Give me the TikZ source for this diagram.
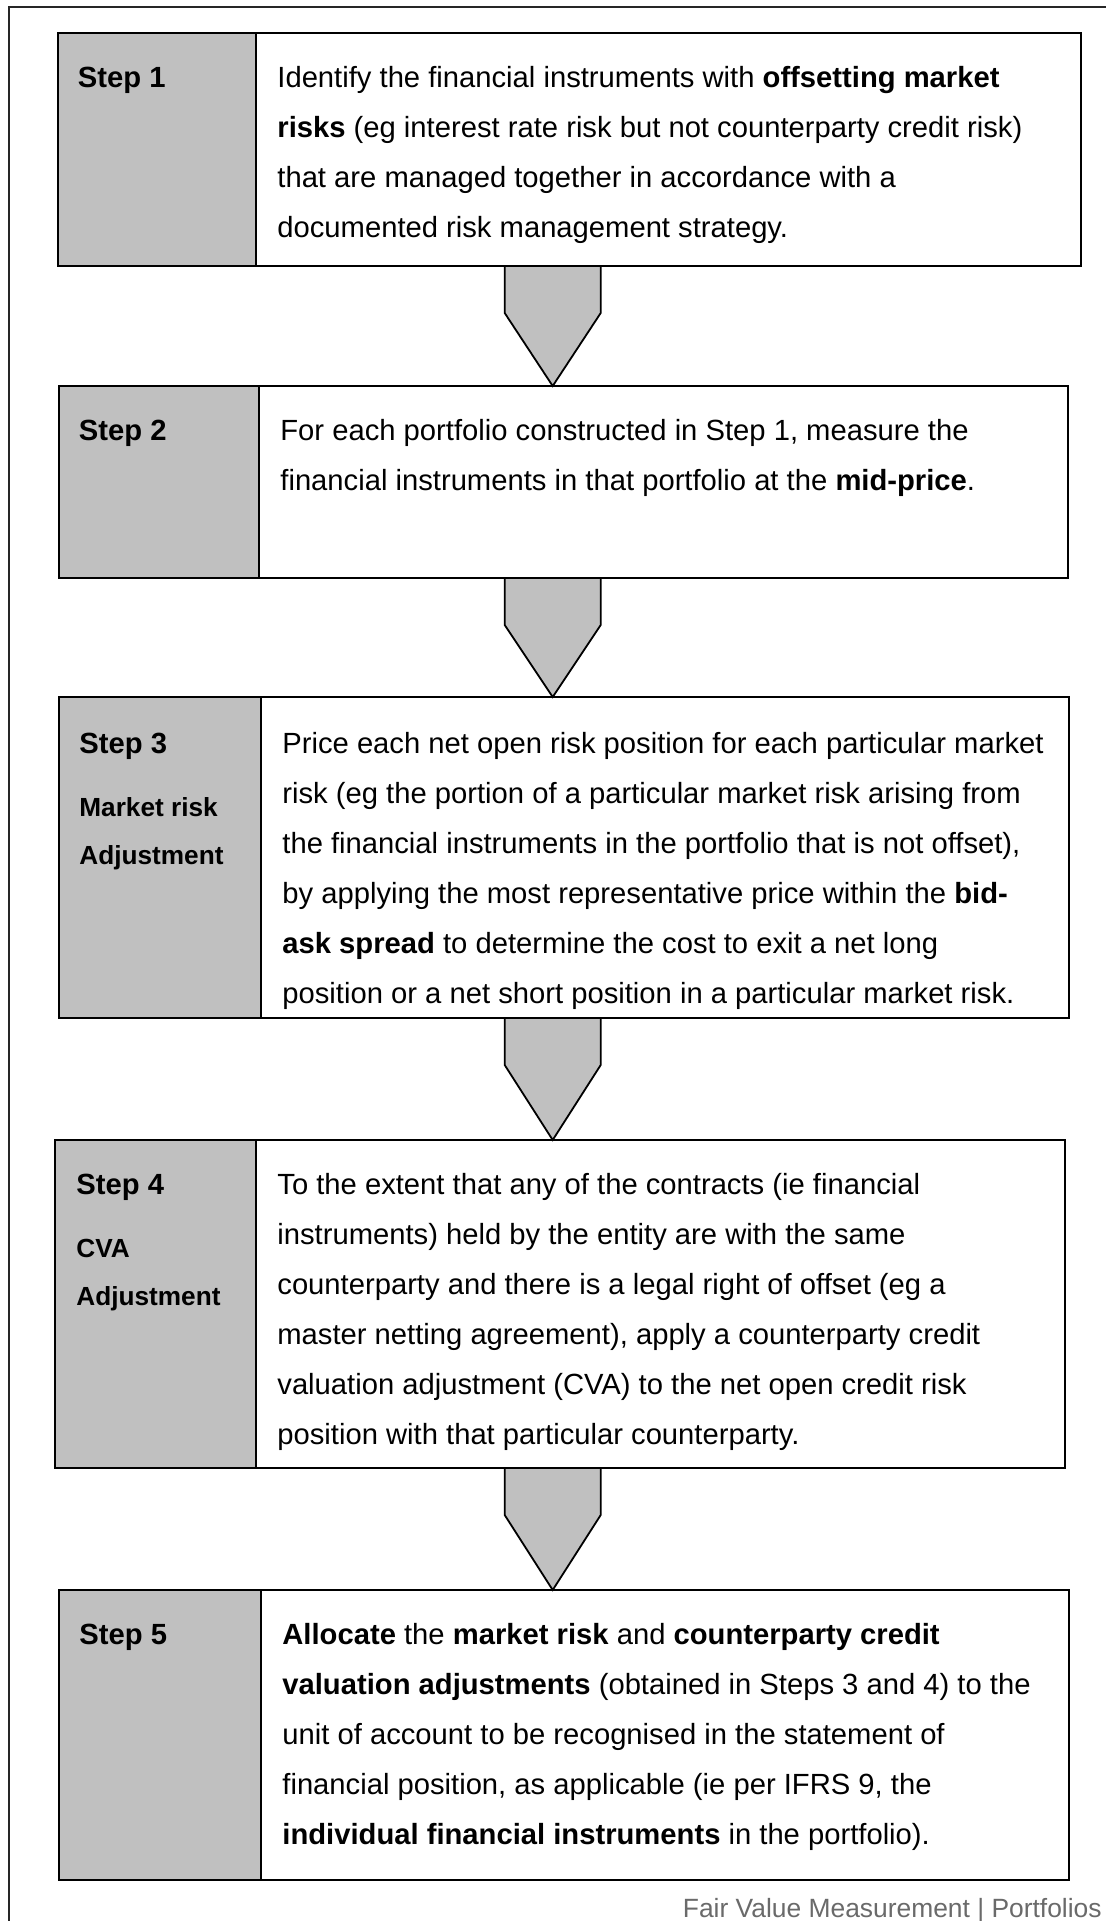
\documentclass[tikz,border=0pt]{standalone}
\usepackage{fontspec}
\setmainfont{Liberation Sans}
\usetikzlibrary{fit,calc}
\definecolor{panelgray}{HTML}{C0C0C0}
\definecolor{footgray}{HTML}{6A6A6A}
\tikzset{
  panel/.style={draw=black, line width=1pt, fill=white, inner sep=0pt, outer sep=0pt},
  labelcol/.style={draw=black, line width=1pt, fill=panelgray, inner sep=0pt, outer sep=0pt},
  blockarrow/.style={draw=black, line width=0.9pt, fill=panelgray, line join=miter},
  bodytext/.style={anchor=north west, inner sep=0pt, align=left, font=\fontsize{14.6pt}{25pt}\selectfont},
  steplabel/.style={anchor=base west, inner sep=0pt, font=\fontsize{14.6pt}{25pt}\selectfont\bfseries},
  sublabel/.style={anchor=north west, inner sep=0pt, align=left, font=\fontsize{13.1pt}{24pt}\selectfont\bfseries},
  outerframe/.style={draw=black!85, line width=1pt},
  footer/.style={anchor=base east, inner sep=0pt, text=footgray, font=\fontsize{13.2pt}{16pt}\selectfont},
}
\begin{document}
\begin{tikzpicture}[x=0.5pt,y=-0.5pt]
\path[use as bounding box] (0,0) rectangle (1105,1921);
\fill[white] (0,0) rectangle (1105,1921);
\draw[outerframe] (8.5,1930) -- (8.5,7) -- (1110,7);

% ---------- boxes ----------
\coordinate (b1nw) at (57.5,33);   \coordinate (b1se) at (1081,266);  \coordinate (g1se) at (256,266);
\coordinate (b2nw) at (58.5,386);  \coordinate (b2se) at (1068,578);  \coordinate (g2se) at (259,578);
\coordinate (b3nw) at (58.5,697);  \coordinate (b3se) at (1069,1018); \coordinate (g3se) at (261,1018);
\coordinate (b4nw) at (55,1140);   \coordinate (b4se) at (1065,1468); \coordinate (g4se) at (256,1468);
\coordinate (b5nw) at (58.5,1590); \coordinate (b5se) at (1069,1880); \coordinate (g5se) at (261,1880);

\node[panel, fit=(b1nw)(b1se)] (b1) {};
\node[labelcol, fit=(b1nw)(g1se)] (g1) {};
\node[panel, fit=(b2nw)(b2se)] (b2) {};
\node[labelcol, fit=(b2nw)(g2se)] (g2) {};
\node[panel, fit=(b3nw)(b3se)] (b3) {};
\node[labelcol, fit=(b3nw)(g3se)] (g3) {};
\node[panel, fit=(b4nw)(b4se)] (b4) {};
\node[labelcol, fit=(b4nw)(g4se)] (g4) {};
\node[panel, fit=(b5nw)(b5se)] (b5) {};
\node[labelcol, fit=(b5nw)(g5se)] (g5) {};

% ---------- block arrows ----------
\coordinate (ac) at (552.7,0);
\foreach \a/\b in {b1/b2,b2/b3,b3/b4,b4/b5}{
  \draw[blockarrow] ($(ac |- \a.south)+(-48,0)$) -- ($(ac |- \a.south)+(48,0)$)
    -- ($(ac |- \a.south)+(48,47)$) -- (ac |- \b.north)
    -- ($(ac |- \a.south)+(-48,47)$) -- cycle;
}

% ---------- Step 1 ----------
\node[steplabel] (s1) at (77.5,87.5) {Step 1};
\node[bodytext] (t1) at (277,52.5) {\strut Identify the financial instruments with \textbf{offsetting market}\\
\textbf{risks} (eg interest rate risk but not counterparty credit risk)\\
that are managed together in accordance with a\\
documented risk management strategy.};

% ---------- Step 2 ----------
\node[steplabel] (s2) at (78.5,440.5) {Step 2};
\node[bodytext] (t2) at (280,405.5) {\strut For each portfolio constructed in Step 1, measure the\\
financial instruments in that portfolio at the \textbf{mid-price}.};

% ---------- Step 3 ----------
\node[steplabel] (s3) at (79,753) {Step 3};
\node[sublabel] (m3) at (79,782.4) {\strut Market risk\\Adjustment};
\node[bodytext] (t3) at (282,718) {\strut Price each net open risk position for each particular market\\
risk (eg the portion of a particular market risk arising from\\
the financial instruments in the portfolio that is not offset),\\
by applying the most representative price within the \textbf{bid-}\\
\textbf{ask spread} to determine the cost to exit a net long\\
position or a net short position in a particular market risk.};

% ---------- Step 4 ----------
\node[steplabel] (s4) at (76,1194.5) {Step 4};
\node[sublabel] (m4) at (76,1223.9) {\strut CVA\\Adjustment};
\node[bodytext] (t4) at (277,1159.5) {\strut To the extent that any of the contracts (ie financial\\
instruments) held by the entity are with the same\\
counterparty and there is a legal right of offset (eg a\\
master netting agreement), apply a counterparty credit\\
valuation adjustment (CVA) to the net open credit risk\\
position with that particular counterparty.};

% ---------- Step 5 ----------
\node[steplabel] (s5) at (79,1644.5) {Step 5};
\node[bodytext] (t5) at (282,1609.5) {\strut \textbf{Allocate} the \textbf{market risk} and \textbf{counterparty credit}\\
\textbf{valuation adjustments} (obtained in Steps 3 and 4) to the\\
unit of account to be recognised in the statement of\\
financial position, as applicable (ie per IFRS 9, the\\
\textbf{individual financial instruments} in the portfolio).};

% ---------- footer ----------
\node[footer] (foot) at (1102,1917) {Fair Value Measurement | Portfolios};
\end{tikzpicture}
\end{document}
